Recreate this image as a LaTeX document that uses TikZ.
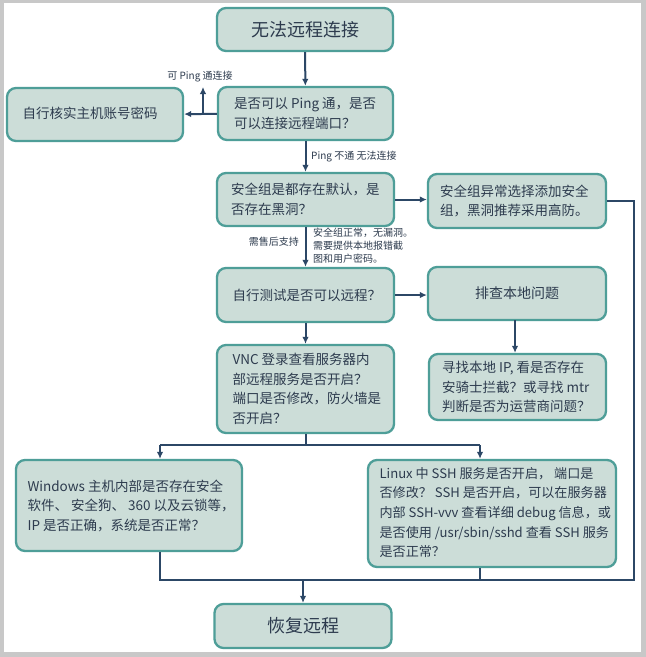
\documentclass[tikz,border=0pt]{standalone}
\usepackage{fontspec}
\setmainfont{Noto Sans CJK SC}
\usetikzlibrary{arrows.meta}
\definecolor{boxfill}{HTML}{CCDDD8}
\definecolor{boxedge}{HTML}{4E9E98}
\definecolor{linec}{HTML}{2C4766}
\definecolor{txt}{HTML}{2D3B4E}
\definecolor{frame}{HTML}{C8C8C8}
\begin{document}
\begin{tikzpicture}[x=1pt,y=-1pt,
  box/.style={draw=boxedge,fill=boxfill,line width=2.3pt,rounded corners=9pt,
    text=txt,inner sep=0pt},
  tbox/.style={box,align=center,font=\fontsize{18}{22}\selectfont},
  btxt/.style={text=txt,align=left,inner sep=0pt,anchor=west,font=\fontsize{13.5}{19.5}\selectfont},
  lab/.style={text=txt,font=\fontsize{10}{13}\selectfont,inner sep=0pt},
  conn/.style={draw=linec,line width=2pt,-{Latex[length=7pt,width=6.5pt]}},
  plain/.style={draw=linec,line width=2pt}]
\useasboundingbox (0,0) rectangle (646,657);
\fill[frame] (0,0) rectangle (646,657);
\fill[white] (3.5,3) rectangle (641,652);

\node[tbox,minimum width=176pt,minimum height=43pt] (b1) at (305,29.5) {无法远程连接};
\node[box,minimum width=175pt,minimum height=53pt] (b2) at (305.5,113.5) {};
\node[btxt] (t2) at ([xshift=17pt]b2.west) {是否可以 Ping 通，是否\\可以连接远程端口？};
\node[box,minimum width=176pt,minimum height=53pt] (b3) at (95,114.5) {};
\node[btxt] (t3) at ([xshift=16.5pt,yshift=1pt]b3.west) {自行核实主机账号密码};
\node[box,minimum width=177pt,minimum height=53pt] (b4) at (305.5,199.5) {};
\node[btxt] (t4) at ([xshift=15pt]b4.west) {安全组是都存在默认，是\\否存在黑洞？};
\node[box,minimum width=178pt,minimum height=54pt] (b5) at (517,201) {};
\node[btxt] (t5) at ([xshift=13pt]b5.west) {安全组异常选择添加安全\\组，黑洞推荐采用高防。};
\node[box,minimum width=177pt,minimum height=54pt] (b6) at (305.5,295) {};
\node[btxt] (t6) at ([xshift=16.5pt]b6.west) {自行测试是否可以远程？};
\node[box,align=center,minimum width=178pt,minimum height=53pt,font=\fontsize{14}{19}\selectfont] (b7) at (517,293.5) {排查本地问题};
\node[box,minimum width=177pt,minimum height=88pt] (b8) at (305.5,389) {};
\node[btxt] (t8) at ([xshift=16.5pt]b8.west) {VNC 登录查看服务器内\\部远程服务是否开启？\\端口是否修改，防火墙是\\否开启？};
\node[box,minimum width=177pt,minimum height=66pt] (b9) at (517.5,387) {};
\node[btxt] (t9) at ([xshift=14pt]b9.west) {寻找本地 IP, 看是否存在\\安骑士拦截？或寻找 mtr\\判断是否为运营商问题？};
\node[box,minimum width=226pt,minimum height=91pt] (b10) at (129,505.5) {};
\node[btxt] (t10) at ([xshift=12.5pt]b10.west) {Windows 主机内部是否存在安全\\软件、 安全狗、 360 以及云锁等，\\IP 是否正确，系统是否正常？};
\node[box,minimum width=248pt,minimum height=107pt] (b11) at (492,513.5) {};
\node[btxt,font=\fontsize{13.1}{19.7}\selectfont] (t11) at ([xshift=12.5pt,yshift=1pt]b11.west) {Linux 中 SSH 服务是否开启， 端口是\\否修改？ SSH 是否开启，可以在服务器\\内部 SSH-vvv 查看详细 debug 信息，或\\是否使用 /usr/sbin/sshd 查看 SSH 服务\\是否正常？};
\node[tbox,minimum width=177pt,minimum height=44pt] (b12) at (303,626) {恢复远程};

% coordinates
\coordinate (up0) at (203,113.5);
\coordinate (up1) at (203,87);
\coordinate (r1) at (634,201);
\coordinate (r2) at (634,580);
\coordinate (m0) at (160,580);
\coordinate (m1) at (480,580);
\coordinate (m2) at (303,580);
\coordinate (s0) at (305.5,445);
\coordinate (s1) at (160,445);
\coordinate (s2) at (480,445);
\coordinate (v0) at (515,320);

% connectors
\draw[conn] (b1) -- (b2);
\draw[conn] (b2) -- (b3);
\draw[conn] (up0) -- (up1);
\node[lab] (l1) at (200,77) {可 Ping 通连接};
\draw[conn] (b2) -- (b4);
\node[lab,anchor=west] (l2) at (311,157) {Ping 不通 无法连接};
\draw[conn] (b4.east) -- (b5.west |- b4.east);
\draw[plain] (b5.east) -- (r1) -- (r2) -- (m0) -- (m0 |- b10.south);
\draw[plain] (m1) -- (m1 |- b11.south);
\draw[conn] (m2) -- (b12);
\draw[conn] (b4) -- (b6);
\node[lab,anchor=east] (l3) at (299,242) {需售后支持};
\node[lab,anchor=west,align=left] (l4) at (313,246) {安全组正常，无漏洞。\\需要提供本地报错截\\图和用户密码。};
\draw[conn] (b6.east) -- (b7.west |- b6.east);
\draw[conn] (v0) -- (v0 |- b9.north);
\draw[conn] (b6) -- (b8);
\draw[plain] (b8.south) -- (s0) -- (s1);
\draw[plain] (s0) -- (s2);
\draw[conn] (s1) -- (s1 |- b10.north);
\draw[conn] (s2) -- (s2 |- b11.north);
\end{tikzpicture}
\end{document}
